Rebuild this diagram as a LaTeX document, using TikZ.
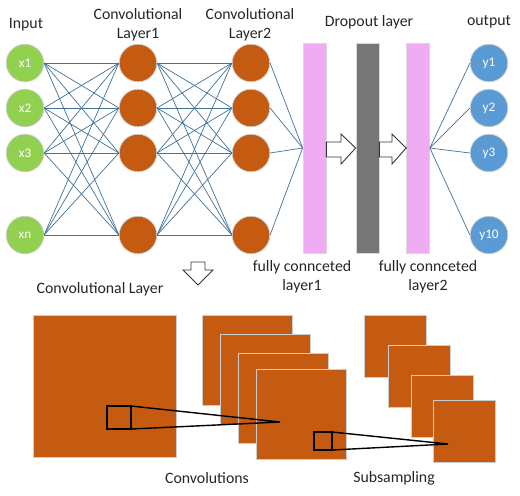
\documentclass[tikz,border=0pt]{standalone}
\usepackage{fontspec}
\setmainfont{Carlito}
\usepackage{tikz}
\usetikzlibrary{calc}
\definecolor{ingreen}{HTML}{92D050}
\definecolor{convorange}{HTML}{C55A11}
\definecolor{outblue}{HTML}{5B9BD5}
\definecolor{fcpink}{HTML}{EFACF2}
\definecolor{dropgray}{HTML}{767676}
\definecolor{edgeblue}{HTML}{41719C}
\tikzset{
  neuron/.style={circle, minimum size=0.75cm, inner sep=0pt, draw=white!80!black, thin, text=white, font=\fontsize{7.5}{9}\selectfont},
  inneuron/.style={neuron, fill=ingreen},
  convneuron/.style={neuron, fill=convorange},
  outneuron/.style={neuron, fill=outblue},
  edge/.style={draw=edgeblue, line width=0.4pt},
  fcbox/.style={rectangle, minimum width=0.46cm, minimum height=4.2cm, inner sep=0pt, draw=black!15, fill=fcpink},
  lbl/.style={font=\fontsize{9}{11}\selectfont, text=black!85, align=center},
  sheet/.style={fill=convorange, draw=black!20},
  blockarrow/.style={fill=white, draw=black!80, line width=0.5pt, line join=miter}
}
\begin{document}
\begin{tikzpicture}[x=0.02cm, y=-0.02cm]
	\useasboundingbox (0,0) rectangle (520,495);
	% neurons
	\foreach \i/\n/\y in {1/1/63, 2/2/108, 3/3/153, 4/n/235}{
		\node[inneuron] (in\i) at (25,\y) {x\n};
		\node[convneuron] (ca\i) at (138,\y) {};
		\node[convneuron] (cb\i) at (251,\y) {};
	}
	\foreach \i/\n/\y in {1/1/63, 2/2/108, 3/3/153, 4/10/235}
		\node[outneuron] (out\i) at (489,\y) {y\n};
	% fully connected and dropout layers
	\node[fcbox] (fc1) at (314.5,148) {};
	\node[fcbox, fill=dropgray] (drop) at (367.5,148) {};
	\node[fcbox] (fc2) at (418,148) {};
	% connections
	\foreach \i in {1,...,4}{
		\foreach \j in {1,...,4}{
			\draw[edge] (in\i.east) -- (ca\j.west);
			\draw[edge] (ca\i.east) -- (cb\j.west);
		}
		\draw[edge] (cb\i.east) -- (fc1.west);
		\draw[edge] (fc2.east) -- (out\i.west);
	}
	% block arrows
	\draw[blockarrow] (fc1.east |- 0,142) -- (341,142) -- (341,134) -- (drop.west) -- (341,164) -- (341,157) -- (fc1.east |- 0,157) -- cycle;
	\draw[blockarrow] (drop.east |- 0,142) -- (392,142) -- (392,134) -- (fc2.west) -- (392,164) -- (392,157) -- (drop.east |- 0,157) -- cycle;
	\draw[blockarrow] (191,262) -- (205,262) -- (205,270) -- (213,270) -- (198,285) -- (183,270) -- (191,270) -- cycle;
	% labels
	\node[lbl] (tin) at (26,25) {Input};
	\node[lbl] (tca) at (138,25) {Convolutional\\Layer1};
	\node[lbl] (tcb) at (250,25) {Convolutional\\Layer2};
	\node[lbl] (tdrop) at (369,22) {Dropout layer};
	\node[lbl] (tout) at (489,22) {output};
	\node[lbl] (tfc1) at (302,277) {fully connceted\\layer1};
	\node[lbl] (tfc2) at (428,277) {fully connceted\\layer2};
	\node[lbl] (tconv) at (100,289) {Convolutional Layer};
	% feature maps
	\filldraw[sheet] (33,315) rectangle (176,457);
	\foreach \dx/\dy in {0/0, 18/19, 36/38, 54/54}
		\filldraw[sheet] (202+\dx,315+\dy) rectangle ++(90,90);
	\foreach \dx/\dy in {0/0, 24/30, 47/60, 69/85}
		\filldraw[sheet] (364+\dx,315+\dy) rectangle ++(62,62);
	% kernels
	\coordinate (k1) at (280,422);
	\draw[thick] (107,406) rectangle (131,429);
	\draw[thick] (131,406) -- (k1) -- (131,429);
	\coordinate (k2) at (448,444);
	\draw[thick] (314,432) rectangle (332,450);
	\draw[thick] (332,432) -- (k2) -- (332,450);
	\node[lbl] (tconvs) at (207,478) {Convolutions};
	\node[lbl] (tsub) at (394,478) {Subsampling};
\end{tikzpicture}
\end{document}
